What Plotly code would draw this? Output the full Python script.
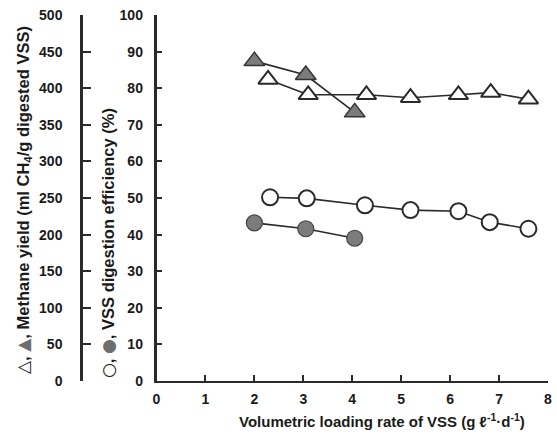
import plotly.graph_objects as go

# Data
loading_open_tri = [2.28, 3.10, 4.29, 5.19, 6.17, 6.83, 7.60]
methane_open = [412, 391, 391, 387, 391, 394, 385]
loading_open_circ = [2.32, 3.07, 4.26, 5.19, 6.17, 6.81, 7.60]
efficiency_open = [50.2, 49.9, 48.0, 46.7, 46.4, 43.4, 41.6]

loading_filled = [2.0, 3.05, 4.05]
methane_filled = [437, 418, 367]
efficiency_filled = [43.2, 41.6, 39.0]

x_ticks = [0, 1, 2, 3, 4, 5, 6, 7, 8]
pct_ticks = list(range(0, 101, 10))
yield_ticks = list(range(0, 501, 50))

W, H = 557, 440
ML, MR, MT, MB = 76, 4, 15, 59
PW = W - ML - MR
PH = H - MT - MB
x0_px, x8_px = 156.5, 548

def px_to_paper(px):
    return (px - ML) / PW

def py_to_paper(py):
    return 1 - (py - MT) / PH

LINE = "#2a2a2a"
GRAY = "#7c7c7c"
FONT = dict(family="Liberation Sans, Arial, sans-serif", size=14, color="#1a1a1a", weight="bold")

fig = go.Figure()

fig.add_trace(go.Scatter(x=loading_open_circ, y=efficiency_open, mode="lines+markers",
                         line=dict(color=LINE, width=1.6),
                         marker=dict(symbol="circle", size=16, color="white",
                                     line=dict(color=LINE, width=2)),
                         yaxis="y", showlegend=False))
fig.add_trace(go.Scatter(x=loading_filled, y=efficiency_filled, mode="lines+markers",
                         line=dict(color=LINE, width=1.6),
                         marker=dict(symbol="circle", size=16, color=GRAY,
                                     line=dict(color="#444", width=1.2)),
                         yaxis="y", showlegend=False))
fig.add_trace(go.Scatter(x=loading_open_tri, y=methane_open, mode="lines+markers",
                         line=dict(color=LINE, width=1.6),
                         marker=dict(symbol="triangle-up", size=17, color="white",
                                     line=dict(color=LINE, width=2)),
                         yaxis="y2", showlegend=False))
fig.add_trace(go.Scatter(x=loading_filled, y=methane_filled, mode="lines+markers",
                         line=dict(color=LINE, width=1.6),
                         marker=dict(symbol="triangle-up", size=18, color=GRAY,
                                     line=dict(color="#333", width=1.5)),
                         yaxis="y2", showlegend=False))

fig.update_layout(
    width=W, height=H,
    margin=dict(l=ML, r=MR, t=MT, b=MB, autoexpand=False),
    paper_bgcolor="white", plot_bgcolor="white",
    font=FONT,
    xaxis=dict(range=[0, 8], domain=[px_to_paper(x0_px), px_to_paper(x8_px)],
               tickvals=x_ticks, ticktext=[str(v) for v in x_ticks],
               ticks="inside", ticklen=6, tickwidth=1.5, tickcolor=LINE,
               showline=True, linecolor=LINE, linewidth=2,
               showgrid=False, zeroline=False, ticklabelstandoff=4,
               tickfont=FONT, automargin=False),
    yaxis=dict(range=[0, 100], domain=[0, 1], tickvals=pct_ticks,
               ticks="inside", ticklen=6, tickwidth=1.5, tickcolor=LINE,
               showline=True, linecolor=LINE, linewidth=2.5,
               showgrid=False, zeroline=False, ticklabelstandoff=8,
               tickfont=FONT, automargin=False),
    yaxis2=dict(range=[0, 500], tickvals=yield_ticks, overlaying="y",
                anchor="free", position=px_to_paper(81), side="left",
                ticks="inside", ticklen=8, tickwidth=1.5, tickcolor=LINE,
                showline=True, linecolor=LINE, linewidth=2.5,
                showgrid=False, zeroline=False, ticklabelstandoff=15,
                tickfont=FONT, automargin=False),
)

YFONT = dict(family="Liberation Sans, Arial, sans-serif", size=16.5, color="#1a1a1a", weight="bold")
XFONT = dict(family="Liberation Sans, Arial, sans-serif", size=15, color="#1a1a1a", weight="bold")
SYM = "font-family:DejaVu Sans;font-size:17px"
fig.add_annotation(xref="paper", yref="paper", x=px_to_paper(23), y=py_to_paper(200),
                   text=f"<span style='{SYM}'>△</span>, <span style='{SYM};color:#6e6e6e'>▲</span>, "
                        "Methane yield (ml CH<sub>4</sub>/g digested VSS)",
                   textangle=-90, showarrow=False, font=YFONT, xanchor="center", yanchor="middle")
fig.add_annotation(xref="paper", yref="paper", x=px_to_paper(108), y=py_to_paper(243),
                   text=f"<span style='{SYM}'>○</span>, <span style='{SYM};color:#6e6e6e'>●</span>, "
                        "VSS digestion efficiency (%)",
                   textangle=-90, showarrow=False, font=YFONT, xanchor="center", yanchor="middle")
fig.add_annotation(xref="paper", yref="paper", x=px_to_paper(382), y=py_to_paper(421),
                   text="Volumetric loading rate of VSS (g ℓ<sup>-1</sup>·d<sup>-1</sup>)",
                   showarrow=False, font=XFONT, xanchor="center", yanchor="middle")

fig.write_html("out.html", config={"displayModeBar": False},
               post_script="document.body.style.margin='0';document.body.style.padding='0';")
